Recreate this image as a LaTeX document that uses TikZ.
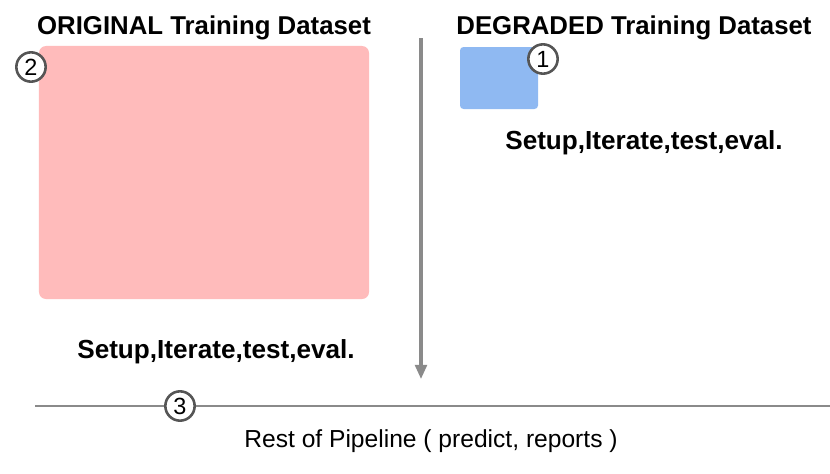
\documentclass[tikz,border=0pt]{standalone}
\usepackage{fontspec}
\setmainfont{Liberation Sans}
\usetikzlibrary{arrows.meta}
\definecolor{origfill}{HTML}{FFBBBB}
\definecolor{degfill}{HTML}{8FB9F2}
\definecolor{linegray}{HTML}{8A8A8A}
\definecolor{markgray}{HTML}{555555}
\begin{document}
\begin{tikzpicture}[x=0.03cm,y=-0.03cm]
    \tikzstyle{title}=[font=\fontsize{22}{26}\selectfont\bfseries]
    \tikzstyle{steplist}=[font=\fontsize{22.3}{26}\selectfont\bfseries]
    \tikzstyle{marker}=[circle,draw=markgray,line width=2.2pt,fill=white,minimum size=0.88cm,inner sep=0pt,font=\fontsize{20}{22}\selectfont]
    \useasboundingbox (0,0) rectangle (830,474);
    % left side
    \node[title] (origtitle) at (204,28){ORIGINAL Training Dataset};
    \node[fill=origfill,rounded corners=6pt,minimum width=9.9cm,minimum height=7.59cm,inner sep=0pt] (origset) at (204,172.5){};
    \node[marker] (two) at (31,67){2};
    \node[steplist] (origsteps) at (216,352){Setup,Iterate,test,eval.};
    % divider
    \coordinate (divtop) at (421,38);
    \coordinate (divbot) at (421,379);
    \draw[linegray,line width=2.6pt,-{Triangle[length=12pt,width=10pt]}] (divtop) -- (divbot);
    % right side
    \node[title] (degtitle) at (634,28){DEGRADED Training Dataset};
    \node[fill=degfill,rounded corners=3pt,minimum width=2.34cm,minimum height=1.86cm,inner sep=0pt] (degset) at (499,78){};
    \node[marker] (one) at (543,59){1};
    \node[steplist] (degsteps) at (644,143){Setup,Iterate,test,eval.};
    % bottom
    \coordinate (linestart) at (35,406);
    \coordinate (lineend) at (830,406);
    \node[marker] (three) at (180,406){3};
    \draw[linegray,line width=2.2pt] (linestart) -- (three) -- (lineend);
    \node[font=\fontsize{21}{25}\selectfont] (rest) at (431,441){Rest of Pipeline ( predict, reports )};
  \end{tikzpicture}
\end{document}
